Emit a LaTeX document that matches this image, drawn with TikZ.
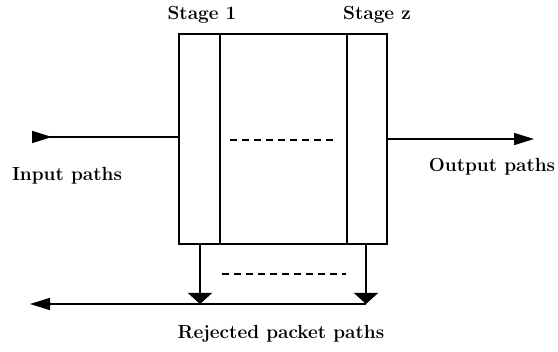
\documentclass[tikz,border=0pt]{standalone}
\usetikzlibrary{arrows.meta}
\tikzset{
  head/.tip={Triangle[length=20pt,width=12pt]},
  backhead/.tip={Triangle[reversed,length=20pt,width=12pt]},
  dhead/.tip={Triangle[length=11pt,width=24pt]}}
\begin{document}
\begin{tikzpicture}[x=1pt,y=-1pt,
  wire/.style={line width=1.6pt},
  dashwire/.style={line width=1.2pt, dash pattern=on 7pt off 5pt},
  lbl/.style={font=\fontsize{19}{22}\selectfont\bfseries, inner sep=0pt}]
\useasboundingbox (0,0) rectangle (558,352);
% switch block and its stage columns
\draw[wire] (179,34) rectangle (387,244);
\draw[wire] (220,34) -- (220,244);
\draw[wire] (347,34) -- (347,244);
\coordinate (boxL) at (179,137);
\coordinate (boxR) at (387,139);
\coordinate (inStart) at (32,137);
\coordinate (outEnd) at (534,139);
\coordinate (rejA) at (200,244);
\coordinate (rejB) at (366,244);
\coordinate (rejA2) at (200,304);
\coordinate (rejB2) at (366,304);
\coordinate (rejEnd) at (30,304);
% intermediate stages
\draw[dashwire] (230,140) -- (336,140);
\draw[dashwire] (222,274) -- (346,274);
% paths
\draw[wire, {backhead}-] (inStart) -- (boxL);
\draw[wire, -{head}] (boxR) -- (outEnd);
\draw[wire, -{dhead}] (rejA) -- (rejA2);
\draw[wire, -{dhead}] (rejB) -- (rejB2);
\draw[wire, -{head}] (rejB2) -- (rejEnd);
% labels
\node[lbl] (s1) at (202,15) {Stage 1};
\node[lbl] (sz) at (377,15) {Stage z};
\node[lbl] (inp) at (67,176) {Input paths};
\node[lbl] (outp) at (492,167) {Output paths};
\node[lbl] (rej) at (281,334) {Rejected packet paths};
\end{tikzpicture}
\end{document}
